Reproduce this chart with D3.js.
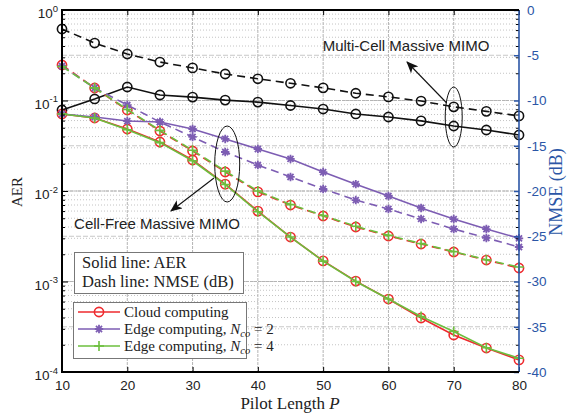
<!DOCTYPE html>
<html>
<head>
<meta charset="utf-8">
<script src="https://cdn.jsdelivr.net/npm/d3@7"></script>
<style>
html,body{margin:0;padding:0;background:#fff;}
svg{display:block;}
</style>
</head>
<body>
<svg id="c" width="568" height="417"></svg>
<script>
// ---------------- data ----------------
const pilot = [10,15,20,25,30,35,40,45,50,55,60,65,70,75,80];
const xTicks = [10,20,30,40,50,60,70,80];
const yLeftTicks = [1e-4,1e-3,1e-2,1e-1,1];
const yRightTicks = [0,-5,-10,-15,-20,-25,-30,-35,-40];

// Multi-cell massive MIMO
const mcAER  = [0.0785,0.104,0.141,0.115,0.109,0.101,0.096,0.088,0.0805,0.071,0.0657,0.0595,0.0523,0.0472,0.0416];
const mcNMSE = [-2.1,-3.65,-4.86,-5.75,-6.4,-7.07,-7.6,-8.1,-8.6,-9.2,-9.6,-10.06,-10.7,-11.2,-11.7];

// Cell-free: cloud computing
const cloudAER  = [0.0709,0.0641,0.0484,0.0348,0.0220,0.0119,0.0060,0.0031,0.00169,0.00101,0.00064,0.000395,0.000256,0.000184,0.000136];
const cloudNMSE = [-6.08,-8.62,-11.05,-13.37,-15.58,-17.9,-20.1,-21.55,-22.76,-23.98,-24.97,-25.86,-26.74,-27.63,-28.51];
// Edge computing Nco = 2
const edge2AER  = [0.0709,0.0657,0.0593,0.0579,0.0484,0.0376,0.0291,0.0226,0.0162,0.0119,0.0088,0.0065,0.0049,0.0038,0.0030];
const edge2NMSE = [-6.19,-8.62,-10.5,-12.38,-14.03,-15.69,-17.13,-18.45,-19.78,-21.0,-21.99,-23.09,-24.2,-25.19,-26.19];
// Edge computing Nco = 4
const edge4AER  = [0.0709,0.0640,0.0476,0.0342,0.0216,0.0118,0.0059,0.0031,0.00168,0.00100,0.00064,0.00041,0.00028,0.000185,0.000142];
const edge4NMSE = [-6.25,-8.6,-11.0,-13.3,-15.5,-17.8,-20.0,-21.5,-22.7,-23.9,-24.9,-25.8,-26.7,-27.6,-28.4];

const legendLabels = ["Cloud computing","Edge computing, ","Edge computing, "];
const legendN = [null,"2","4"];

// ---------------- layout ----------------
const L=62, R=519, T=10, B=372;
const blue = "#2b56a6";
const cRed = "#ee2a2e", cPur = "#7d5db3", cGrn = "#6cbf3e";
const sans = "'Liberation Sans', Arial, sans-serif";
const serif = "'Liberation Serif', 'Times New Roman', serif";

const svg = d3.select("#c");
const x = d3.scaleLinear().domain([10,80]).range([L,R]);
const yL = d3.scaleLog().domain([1e-4,1]).range([B,T]);
const yR = d3.scaleLinear().domain([-40,0]).range([B,T]);

// ---------------- grid ----------------
const grid = svg.append("g");
const minor = [];
for (let e=-4;e<0;e++) for (let m=2;m<=9;m++) minor.push(m*Math.pow(10,e));
grid.selectAll(".mn").data(minor).enter().append("line")
  .attr("x1",L).attr("x2",R).attr("y1",d=>yL(d)).attr("y2",d=>yL(d))
  .attr("stroke","#c4c4c4").attr("stroke-width",1).attr("stroke-dasharray","1,2");
grid.selectAll(".rg").data(yRightTicks.filter(d=>d>-40&&d<0)).enter().append("line")
  .attr("x1",L).attr("x2",R).attr("y1",d=>yR(d)).attr("y2",d=>yR(d))
  .attr("stroke","#c8c8c8").attr("stroke-width",1).attr("stroke-dasharray","5,2");
grid.selectAll(".mj").data(yLeftTicks.slice(1,-1)).enter().append("line")
  .attr("x1",L).attr("x2",R).attr("y1",d=>yL(d)).attr("y2",d=>yL(d))
  .attr("stroke","#b4b4b4").attr("stroke-width",1).attr("stroke-dasharray","3,1");
grid.selectAll(".vg").data(xTicks.slice(1,-1)).enter().append("line")
  .attr("x1",d=>x(d)).attr("x2",d=>x(d)).attr("y1",T).attr("y2",B)
  .attr("stroke","#b4b4b4").attr("stroke-width",1).attr("stroke-dasharray","3,1");

// ---------------- series ----------------
const plot = svg.append("g");
function line(vals, yscale, color, dashed){
  const g = d3.line().x((d,i)=>x(pilot[i])).y(d=>yscale(d));
  plot.append("path").datum(vals).attr("d",g).attr("fill","none")
    .attr("stroke",color).attr("stroke-width",1.6)
    .attr("stroke-dasharray",dashed?"8,5":null);
}
function markers(vals, yscale, color, type){
  const gm = plot.append("g");
  vals.forEach((v,i)=>{
    const cx=x(pilot[i]), cy=yscale(v);
    if(type==="o"){
      gm.append("circle").attr("cx",cx).attr("cy",cy).attr("r",4.6)
        .attr("fill","none").attr("stroke",color).attr("stroke-width",1.6);
    } else if(type==="+"){
      const s=5;
      gm.append("path").attr("d",`M${cx-s},${cy}H${cx+s}M${cx},${cy-s}V${cy+s}`)
        .attr("stroke",color).attr("stroke-width",1.6).attr("fill","none");
    } else {
      const s=4.2, d=s*0.72;
      gm.append("path").attr("d",`M${cx-s},${cy}H${cx+s}M${cx},${cy-s}V${cy+s}M${cx-d},${cy-d}L${cx+d},${cy+d}M${cx-d},${cy+d}L${cx+d},${cy-d}`)
        .attr("stroke",color).attr("stroke-width",1.8).attr("fill","none");
    }
  });
}
line(mcNMSE,yR,"#111",true); markers(mcNMSE,yR,"#111","o");
line(mcAER,yL,"#111",false); markers(mcAER,yL,"#111","o");
line(cloudNMSE,yR,cRed,true); markers(cloudNMSE,yR,cRed,"o");
line(cloudAER,yL,cRed,false); markers(cloudAER,yL,cRed,"o");
line(edge2NMSE,yR,cPur,true); markers(edge2NMSE,yR,cPur,"*");
line(edge2AER,yL,cPur,false); markers(edge2AER,yL,cPur,"*");
line(edge4NMSE,yR,cGrn,true); markers(edge4NMSE,yR,cGrn,"+");
line(edge4AER,yL,cGrn,false); markers(edge4AER,yL,cGrn,"+");

// ---------------- axes ----------------
const ax = svg.append("g");
const xAxis = d3.axisBottom(x).tickValues(xTicks).tickSize(-5).tickPadding(8).tickFormat(d3.format("d"));
const gx = ax.append("g").attr("transform",`translate(0,${B})`).call(xAxis);
gx.select(".domain").remove();
gx.selectAll("line").attr("stroke","#000");
gx.selectAll("text").attr("font-family",sans).attr("font-size",13.5).attr("fill","#222").attr("dy","0.71em");
const gxt = ax.append("g").attr("transform",`translate(0,${T})`).call(d3.axisTop(x).tickValues(xTicks).tickSize(-5).tickFormat(""));
gxt.select(".domain").remove();

const gyl = ax.append("g").attr("transform",`translate(${L},0)`)
  .call(d3.axisLeft(yL).tickValues(minor).tickSize(-3).tickFormat(""));
gyl.select(".domain").remove();
const gyl2 = ax.append("g").attr("transform",`translate(${L},0)`)
  .call(d3.axisLeft(yL).tickValues(yLeftTicks).tickSize(-6).tickFormat(""));
gyl2.select(".domain").remove();
const gyr0 = ax.append("g").attr("transform",`translate(${R},0)`)
  .call(d3.axisRight(yL).tickValues(minor).tickSize(-3).tickFormat(""));
gyr0.select(".domain").remove();
const lblL = ax.append("g");
yLeftTicks.forEach(v=>{
  const e = Math.round(Math.log10(v));
  const t = lblL.append("text").attr("x",58).attr("y",yL(v)+8)
    .attr("text-anchor","end").attr("font-family",sans).attr("fill","#222");
  t.append("tspan").attr("font-size",13.5).text("10");
  t.append("tspan").attr("font-size",9.5).attr("dy",-6.5).text(String(e));
});

const gyr = ax.append("g").attr("transform",`translate(${R},0)`)
  .call(d3.axisRight(yR).tickValues(yRightTicks).tickSize(-5).tickPadding(8).tickFormat(d=>String(d)));
gyr.select(".domain").remove();
gyr.selectAll("line").attr("stroke",blue).attr("stroke-width",1.5);
gyr.selectAll("text").attr("font-family",sans).attr("font-size",13.5).attr("fill",blue);

ax.append("line").attr("x1",R).attr("x2",R).attr("y1",T).attr("y2",B).attr("stroke",blue).attr("stroke-width",1.6);
ax.append("path").attr("d",`M${R},${T}H${L}V${B}H${R}`).attr("fill","none").attr("stroke","#000").attr("stroke-width",2);

// axis titles
svg.append("text").attr("x",290).attr("y",409).attr("text-anchor","middle")
  .attr("font-family",serif).attr("font-size",17).attr("fill","#222")
  .text("Pilot Length ").append("tspan").attr("font-style","italic").text("P");
svg.append("text").attr("transform",`translate(22,192) rotate(-90)`).attr("text-anchor","middle")
  .attr("font-family",serif).attr("font-size",15).attr("fill","#222").text("AER");
svg.append("text").attr("transform",`translate(562,192) rotate(-90)`).attr("text-anchor","middle")
  .attr("font-family",serif).attr("font-size",18).attr("fill",blue).text("NMSE (dB)");

// ---------------- annotations ----------------
const ann = svg.append("g");
const defs = svg.append("defs");
defs.append("marker").attr("id","ah").attr("viewBox","0 0 12 10").attr("refX",11).attr("refY",5)
  .attr("markerWidth",12).attr("markerHeight",10).attr("markerUnits","userSpaceOnUse").attr("orient","auto")
  .append("path").attr("d","M0,0L12,5L0,10L3,5Z").attr("fill","#111");
ann.append("ellipse").attr("cx",x(70)).attr("cy",117).attr("rx",8.5).attr("ry",30)
  .attr("fill","none").attr("stroke","#111").attr("stroke-width",1);
ann.append("line").attr("x1",x(70)-7).attr("y1",103).attr("x2",407).attr("y2",62)
  .attr("stroke","#111").attr("stroke-width",1.1).attr("marker-end","url(#ah)");
ann.append("text").attr("x",406).attr("y",51).attr("text-anchor","middle")
  .attr("font-family",sans).attr("font-size",15).attr("fill","#222").text("Multi-Cell Massive MIMO");
ann.append("ellipse").attr("cx",x(35)+2).attr("cy",164).attr("rx",12.5).attr("ry",38)
  .attr("fill","none").attr("stroke","#111").attr("stroke-width",1);
ann.append("line").attr("x1",214).attr("y1",178).attr("x2",171).attr("y2",211)
  .attr("stroke","#111").attr("stroke-width",1.1).attr("marker-end","url(#ah)");
ann.append("text").attr("x",157).attr("y",229).attr("text-anchor","middle")
  .attr("font-family",sans).attr("font-size",15).attr("fill","#222").text("Cell-Free Massive MIMO");

// text box
const tb = svg.append("g");
tb.append("rect").attr("x",74.5).attr("y",252.5).attr("width",169).attr("height",41)
  .attr("fill","#fff").attr("stroke","#777").attr("stroke-width",1);
tb.append("text").attr("x",82).attr("y",268).attr("font-family",serif).attr("font-size",16.5).attr("fill","#222").text("Solid line: AER");
tb.append("text").attr("x",82).attr("y",287).attr("font-family",serif).attr("font-size",16.5).attr("fill","#222").text("Dash line: NMSE (dB)");

// legend
const lg = svg.append("g");
lg.append("rect").attr("x",73.5).attr("y",302.5).attr("width",173).attr("height",56)
  .attr("fill","#fff").attr("stroke","#777").attr("stroke-width",1);
const lgColors=[cRed,cPur,cGrn], lgMarks=["o","*","+"], lgY=[312,329,346];
lgY.forEach((yy,i)=>{
  lg.append("line").attr("x1",78).attr("x2",120).attr("y1",yy).attr("y2",yy)
    .attr("stroke",lgColors[i]).attr("stroke-width",1.6);
  const c=lgColors[i], cx=99, cy=yy;
  if(lgMarks[i]==="o") lg.append("circle").attr("cx",cx).attr("cy",cy).attr("r",4.6).attr("fill","none").attr("stroke",c).attr("stroke-width",1.6);
  else if(lgMarks[i]==="+") lg.append("path").attr("d",`M${cx-5},${cy}H${cx+5}M${cx},${cy-5}V${cy+5}`).attr("stroke",c).attr("stroke-width",1.6);
  else { const s=4.2,d=s*0.72; lg.append("path").attr("d",`M${cx-s},${cy}H${cx+s}M${cx},${cy-s}V${cy+s}M${cx-d},${cy-d}L${cx+d},${cy+d}M${cx-d},${cy+d}L${cx+d},${cy-d}`).attr("stroke",c).attr("stroke-width",1.8); }
  const t = lg.append("text").attr("x",124).attr("y",yy+5).attr("font-family",serif).attr("font-size",15).attr("fill","#222");
  t.append("tspan").text(legendLabels[i]);
  if(legendN[i]){
    t.append("tspan").attr("font-style","italic").text("N");
    t.append("tspan").attr("font-style","italic").attr("font-size",10.5).attr("dy",3).text("co");
    t.append("tspan").attr("dy",-3).text(" = "+legendN[i]);
  }
});
</script>
</body>
</html>
